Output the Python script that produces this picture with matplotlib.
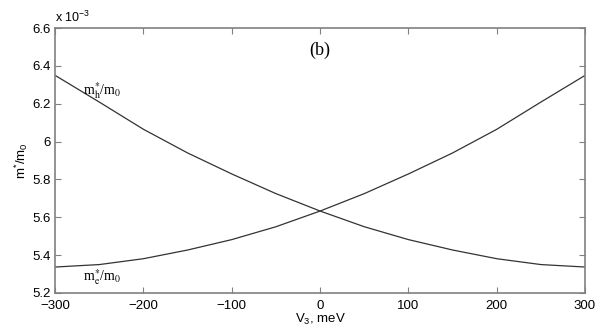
import matplotlib.pyplot as plt

# V3 in meV, effective masses in units of 1e-3
v3 = [-300, -250, -200, -150, -100, -50, 0, 50, 100, 150, 200, 250, 300]
m_e = [5.337, 5.350, 5.381, 5.427, 5.482, 5.550, 5.633, 5.725, 5.829, 5.940, 6.065, 6.209, 6.350]
m_h = [6.350, 6.209, 6.065, 5.940, 5.829, 5.725, 5.633, 5.550, 5.482, 5.427, 5.381, 5.350, 5.337]

xticks = [-300, -200, -100, 0, 100, 200, 300]
yticks = [5.2, 5.4, 5.6, 5.8, 6.0, 6.2, 6.4, 6.6]

plt.rcParams['font.family'] = ['Liberation Sans', 'DejaVu Sans']
plt.rcParams['mathtext.fontset'] = 'custom'
plt.rcParams['mathtext.rm'] = 'Liberation Sans'
plt.rcParams['mathtext.it'] = 'Liberation Sans'

fig = plt.figure(figsize=(6, 3.31), dpi=100)
ax = fig.add_axes([0.092, 0.115, 0.883, 0.8])

ax.plot(v3, m_e, color='#333333', lw=0.9)
ax.plot(v3, m_h, color='#333333', lw=0.9)

ax.set_xlim(-300, 300)
ax.set_ylim(5.2, 6.6)
ax.set_xticks(xticks)
ax.set_yticks(yticks)
ax.set_yticklabels([f"{t:g}" for t in yticks])
ax.tick_params(direction='in', top=True, right=True, length=4, width=0.8,
               color='#808080', labelsize=9.5)
ax.tick_params(axis='x', pad=5)
ax.tick_params(axis='y', pad=3)
for s in ax.spines.values():
    s.set_color('#808080')
    s.set_linewidth(1.2)

ax.text(0, 1.01, r'x 10$^{\mathrm{-3}}$', transform=ax.transAxes, fontsize=9, va='bottom', ha='left')
ax.set_xlabel(r'V$_\mathrm{3}$, meV', fontsize=9.5, labelpad=0)
ax.set_ylabel(r'm$^\mathrm{*}$/m$_\mathrm{0}$', fontsize=9.5, labelpad=2)

serif = ['Liberation Serif', 'DejaVu Serif']
ax.text(0, 6.48, '(b)', family=serif, fontsize=13, ha='center', va='center')
ax.text(-268, 6.27, r'm$_\mathrm{h}^\mathrm{*}$/m$_\mathrm{0}$', family=serif, fontsize=10,
        ha='left', va='center', math_fontfamily='stix')
ax.text(-268, 5.285, r'm$_\mathrm{e}^\mathrm{*}$/m$_\mathrm{0}$', family=serif, fontsize=10,
        ha='left', va='center', math_fontfamily='stix')

fig.savefig('out.png', dpi=100)
